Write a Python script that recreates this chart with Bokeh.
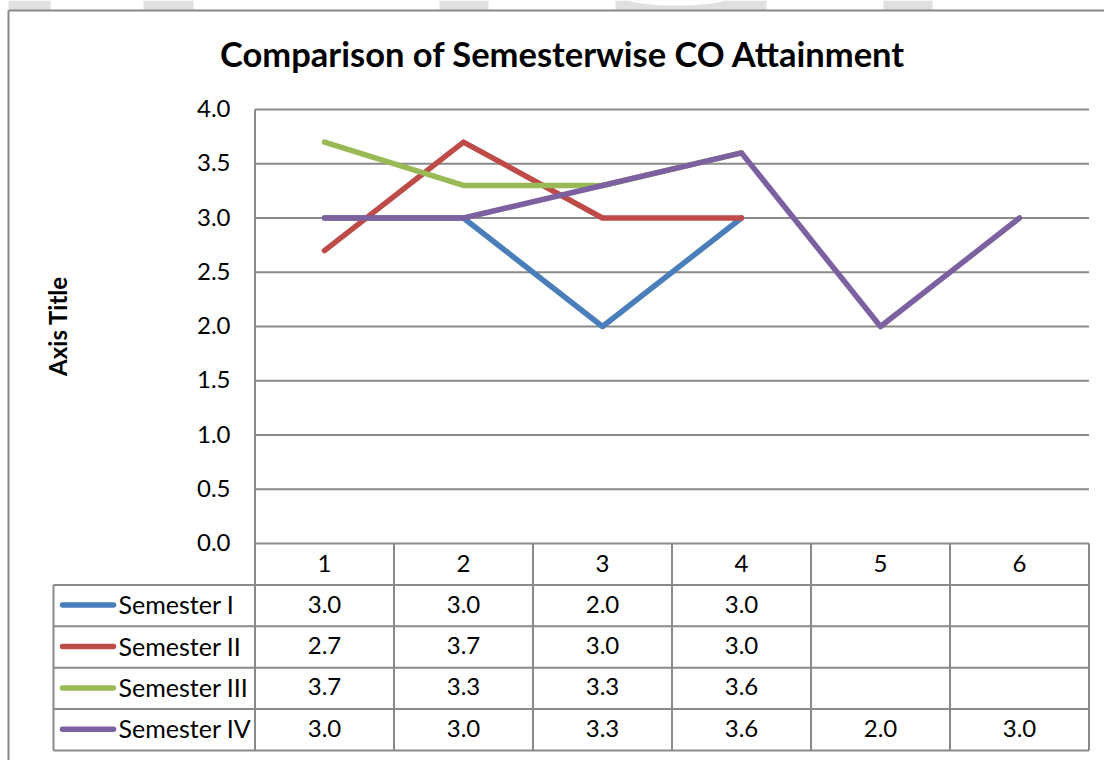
import math
from bokeh.plotting import figure
from bokeh.models import Range1d
from bokeh.core.properties import value
from bokeh.embed import file_html
from bokeh.resources import INLINE

# ---------------- data ----------------
categories = [1, 2, 3, 4, 5, 6]
series_names = ["Semester I", "Semester II", "Semester III", "Semester IV"]
sem_1 = [3.0, 3.0, 2.0, 3.0]
sem_2 = [2.7, 3.7, 3.0, 3.0]
sem_3 = [3.7, 3.3, 3.3, 3.6]
sem_4 = [3.0, 3.0, 3.3, 3.6, 2.0, 3.0]
y_ticks = [0.0, 0.5, 1.0, 1.5, 2.0, 2.5, 3.0, 3.5, 4.0]
title_text = "Comparison of Semesterwise CO Attainment"
axis_title_text = "Axis Title"

series_values = [sem_1, sem_2, sem_3, sem_4]
colors = ["#4A7EBB", "#BE4B48", "#98B954", "#7D60A0"]

# ---------------- layout helpers (page pixel -> data) ----------------
W, H = 1104, 760
CAT1_PX = 324.0      # page x of category 1
PX_PER_CAT = 139.0
ZERO_PY = 543.0      # page y of value 0
PX_PER_UNIT = 108.5
ROW_H = 41.4


def X(px):
    return 1 + (px - CAT1_PX) / PX_PER_CAT


def Y(py):
    return (ZERO_PY - py) / PX_PER_UNIT


FONT = value("Lato")
GRID = "#8A8A8A"

p = figure(width=W, height=H, output_backend="svg", toolbar_location=None,
           x_range=Range1d(X(0), X(W)), y_range=Range1d(Y(H), Y(0)),
           x_axis_location=None, y_axis_location=None, min_border=0,
           tools="")
p.grid.visible = False
p.outline_line_color = None
p.background_fill_color = "white"
p.border_fill_color = "white"

# faint background shapes peeking above the chart border
blk_l = [8, 143, 439, 615, 883]
blk_r = [50, 193, 488, 766, 932]
p.quad(left=[X(v) for v in blk_l], right=[X(v) for v in blk_r],
       top=[Y(0)] * len(blk_l), bottom=[Y(10)] * len(blk_l),
       fill_color="#E0E0E0", line_color=None)
p.ellipse(x=[X(676)], y=[Y(-2)], width=[100 / PX_PER_CAT], height=[14 / PX_PER_UNIT],
          fill_color="white", line_color=None)

# outer chart border (top & left, right/bottom are off-page in the reference)
p.segment(x0=[X(8)], y0=[Y(10)], x1=[X(W)], y1=[Y(10)], line_color="#878787", line_width=2)
p.segment(x0=[X(8)], y0=[Y(10)], x1=[X(8)], y1=[Y(H)], line_color="#878787", line_width=2)

# horizontal gridlines
n = len(y_ticks)
x_lo = categories[0] - 0.5
x_hi = categories[-1] + 0.5
p.segment(x0=[x_lo] * n, y0=y_ticks, x1=[x_hi] * n, y1=y_ticks, line_color=GRID, line_width=2)

# table geometry
n_rows = len(series_names) + 1
table_bottom_py = ZERO_PY + ROW_H * n_rows
legend_left = X(53)

# vertical axis line (continues through the table)
p.segment(x0=[x_lo], y0=[y_ticks[-1]], x1=[x_lo], y1=[Y(table_bottom_py)], line_color=GRID, line_width=2)
# cell separators
seps = [c + 0.5 for c in categories]
p.segment(x0=seps, y0=[0.0] * len(seps), x1=seps, y1=[Y(table_bottom_py)] * len(seps),
          line_color=GRID, line_width=2)
# legend column left edge
p.segment(x0=[legend_left], y0=[Y(ZERO_PY + ROW_H)], x1=[legend_left], y1=[Y(table_bottom_py)],
          line_color=GRID, line_width=2)
# row lines
row_lines = [Y(ZERO_PY + ROW_H * k) for k in range(1, n_rows + 1)]
p.segment(x0=[legend_left] * len(row_lines), y0=row_lines, x1=[x_hi] * len(row_lines), y1=row_lines,
          line_color=GRID, line_width=2)

# data lines
for vals, col in zip(series_values, colors):
    p.line(categories[:len(vals)], vals, line_color=col, line_width=5.5,
           line_cap="round", line_join="round")

NUM_SIZE = "24px"
MID_OFF = -1.0  # px correction of the em-box middle against the visual centre

# y tick labels
p.text(x=[X(230)] * n, y=[t - MID_OFF / PX_PER_UNIT for t in y_ticks],
       text=[f"{t:.1f}" for t in y_ticks], text_align="right", text_baseline="middle",
       text_font=FONT, text_font_size=NUM_SIZE, text_color="#000000")

# table header
hdr_py = ZERO_PY + ROW_H * 0.5
p.text(x=categories, y=[Y(hdr_py + MID_OFF)] * len(categories), text=[str(c) for c in categories],
       text_align="center", text_baseline="middle", text_font=FONT, text_font_size=NUM_SIZE,
       text_color="#000000")

# table rows
for i, (name, vals, col) in enumerate(zip(series_names, series_values, colors)):
    cy = ZERO_PY + ROW_H * (i + 1.5) - 0.5
    p.text(x=categories[:len(vals)], y=[Y(cy + MID_OFF)] * len(vals), text=[f"{v:.1f}" for v in vals],
           text_align="center", text_baseline="middle", text_font=FONT, text_font_size=NUM_SIZE,
           text_color="#000000")
    p.segment(x0=[X(62)], y0=[Y(cy)], x1=[X(113)], y1=[Y(cy)], line_color=col, line_width=5.5,
              line_cap="round")
    p.text(x=[X(118)], y=[Y(cy + MID_OFF)], text=[name], text_align="left", text_baseline="middle",
           text_font=FONT, text_font_size="25px", text_color="#000000")

# chart title
p.text(x=[X(562.5)], y=[Y(53)], text=[title_text], text_align="center", text_baseline="middle",
       text_font=FONT, text_font_style="bold", text_font_size="34.5px", text_color="#000000")

# axis title
p.text(x=[X(57)], y=[Y(325.5)], text=[axis_title_text], angle=math.pi / 2, text_align="center",
       text_baseline="middle", text_font=FONT, text_font_style="bold", text_font_size="24px",
       text_color="#000000")

open("out.html", "w").write(file_html(p, INLINE))
